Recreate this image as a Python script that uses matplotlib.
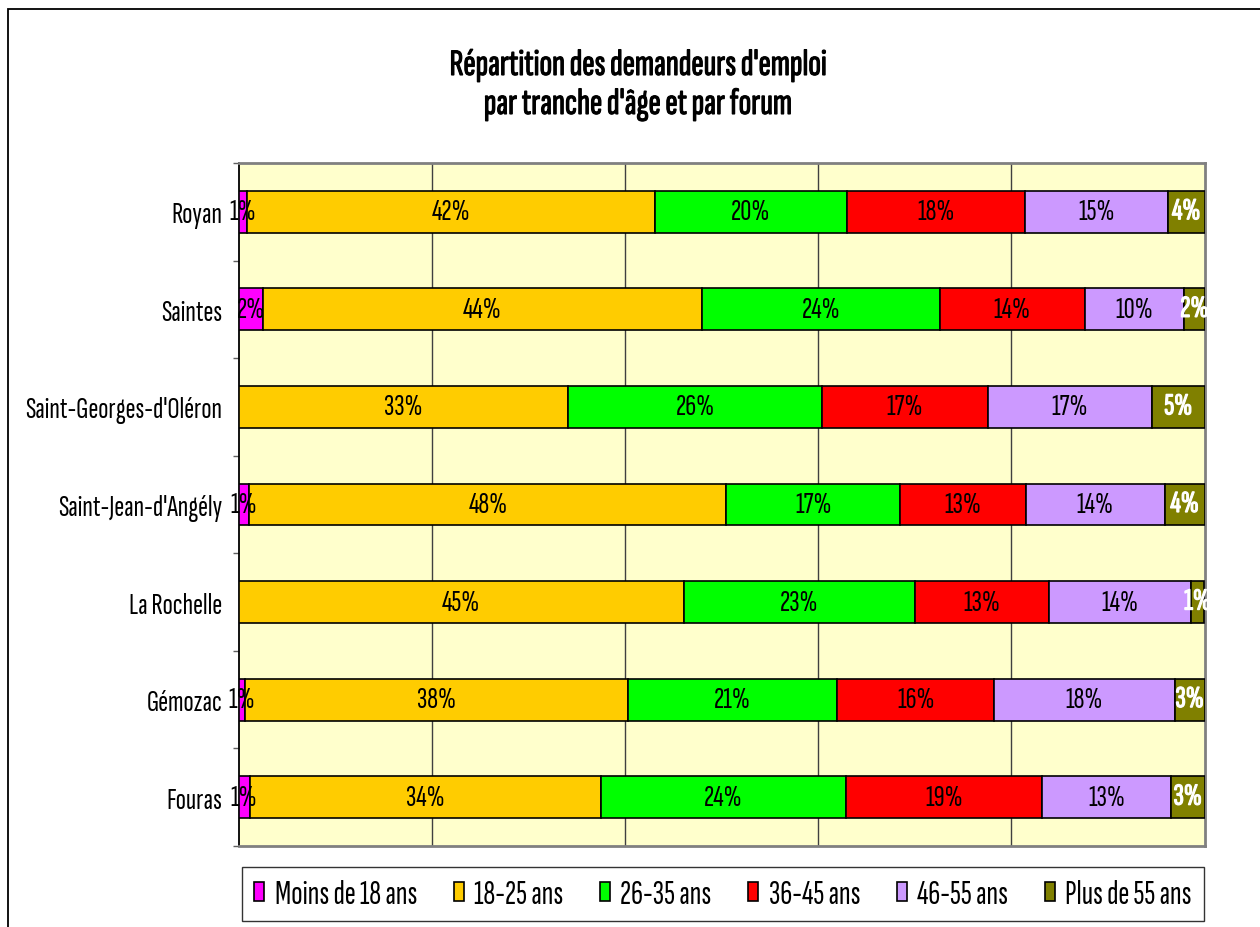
import matplotlib
matplotlib.use("Agg")
import matplotlib.pyplot as plt
from matplotlib import font_manager
from matplotlib.font_manager import FontProperties
from matplotlib.textpath import TextPath
from matplotlib.patches import Rectangle
import matplotlib.patheffects as pe
import numpy as np

# ---------------- data ----------------
categories = ["Royan", "Saintes", "Saint-Georges-d'Oléron", "Saint-Jean-d'Angély",
              "La Rochelle", "Gémozac", "Fouras"]
series_names = ["Moins de 18 ans", "18-25 ans", "26-35 ans", "36-45 ans",
                "46-55 ans", "Plus de 55 ans"]
moins_18 = [0.9, 2.4, 0.0, 1.1, 0.0, 0.7, 1.1]
ans_18_25 = [42.2, 43.6, 33.3, 47.8, 44.6, 38.4, 34.4]
ans_26_35 = [19.9, 23.6, 25.6, 17.4, 23.2, 21.0, 24.0]
ans_36_45 = [18.4, 14.4, 16.7, 12.6, 13.4, 15.8, 19.2]
ans_46_55 = [14.8, 9.9, 16.6, 13.9, 14.2, 18.1, 12.6]
plus_55 = [3.8, 2.0, 5.3, 4.0, 1.4, 3.0, 3.3]
title_lines = ["Répartition des demandeurs d'emploi", "par tranche d'âge et par forum"]

series_values = [moins_18, ans_18_25, ans_26_35, ans_36_45, ans_46_55, plus_55]
colors = ["#FF00FF", "#FFCC00", "#00FF00", "#FF0000", "#CC99FF", "#808000"]

# ---------------- fonts ----------------
def has_font(name):
    try:
        font_manager.findfont(FontProperties(family=name), fallback_to_default=False)
        return True
    except Exception:
        return False

MAIN = "Sofia Sans Extra Condensed"
if not has_font(MAIN):
    MAIN = "Liberation Sans"
FAM = [MAIN, "DejaVu Sans"]
plt.rcParams["font.family"] = FAM

def size_for(text, target_px, weight="normal"):
    fp = FontProperties(family=FAM, weight=weight, size=100)
    w = TextPath((0, 0), text, prop=fp).get_extents().width  # in pt at 100pt
    return target_px / (w / 100 * 100 / 72)

FS_TICK = size_for("Saint-Georges-d'Oléron", 195)
FS_DATA = size_for("42%", 37)
FS_LEG = size_for("Moins de 18 ans", 140)
FS_TITLE = size_for(title_lines[0], 374)
BOLD = [pe.withStroke(linewidth=0.8, foreground="black")]
BOLD_W = [pe.withStroke(linewidth=0.9, foreground="white")]

# ---------------- figure ----------------
W, H = 1260, 928
fig = plt.figure(figsize=(W / 100, H / 100), dpi=100)
fig.patch.set_facecolor("white")

ax_l, ax_r, ax_t, ax_b = 238.5, 1204.5, 164, 847
ax = fig.add_axes([ax_l / W, 1 - ax_b / H, (ax_r - ax_l) / W, (ax_b - ax_t) / H])
ax.set_facecolor("#FFFFCC")

data = np.array(series_values, dtype=float)
totals = data.sum(axis=0)
shares = data / totals * 100
y = np.arange(len(categories))
left = np.zeros(len(categories))
containers = []
for i, name in enumerate(series_names):
    bars = ax.barh(y, shares[i], left=left, height=0.43, color=colors[i],
                   edgecolor="black", linewidth=1.2, label=name, zorder=3)
    containers.append(bars)
    labels = [f"{v:.0f}%" if v > 0 else "" for v in data[i]]
    if i == len(series_names) - 1:
        txts = ax.bar_label(bars, labels=labels, label_type="center", color="white",
                            fontsize=FS_DATA, zorder=5)
        for t in txts:
            t.set_path_effects(BOLD_W)
    else:
        ax.bar_label(bars, labels=labels, label_type="center", color="black",
                     fontsize=FS_DATA, zorder=5)
    left += shares[i]

ax.set_xlim(0, 100)
ax.set_ylim(len(categories) - 0.5, -0.5)
ax.set_xticks([20, 40, 60, 80])
ax.xaxis.grid(True, color="#404040", linewidth=1.0)
ax.set_axisbelow(True)
ax.tick_params(axis="x", length=0, labelbottom=False)

ax.set_yticks(y)
ax.set_yticklabels(categories, fontsize=FS_TICK)
ax.set_yticks(np.arange(-0.5, len(categories), 1.0), minor=True)
ax.tick_params(axis="y", which="major", length=0, pad=11.5)
ax.tick_params(axis="y", which="minor", length=4.5, width=1, color="#606060")

for s in ["top", "right", "bottom"]:
    ax.spines[s].set_color("#808080")
    ax.spines[s].set_linewidth(2)
ax.spines["left"].set_color("black")
ax.spines["left"].set_linewidth(1.3)

# title (two lines)
for line, yb in zip(title_lines, [76, 115]):
    fig.text(637.5 / W, 1 - yb / H, line, ha="center", va="baseline",
             fontsize=FS_TITLE, path_effects=BOLD)

# legend
lx0, lx1, ly0, ly1 = 242, 1204, 867, 923
leg = fig.legend(handles=containers, labels=series_names, ncol=6,
                 loc="center", mode="expand",
                 bbox_to_anchor=(lx0 / W, 1 - ly1 / H, (lx1 - lx0) / W, (ly1 - ly0) / H),
                 fontsize=FS_LEG, frameon=True, fancybox=False, shadow=False,
                 edgecolor="black", borderaxespad=0, borderpad=0.37,
                 handlelength=0.3, handleheight=0.5, handletextpad=0.3,
                 columnspacing=1.0)
leg.get_frame().set_linewidth(1.0)

# chart border
fig.add_artist(Rectangle((8 / W, -0.1), 2.0, (1 - 10 / H) + 0.1, transform=fig.transFigure,
                         fill=False, edgecolor="black", linewidth=1.3, clip_on=False))

fig.savefig("out.png", dpi=100)
